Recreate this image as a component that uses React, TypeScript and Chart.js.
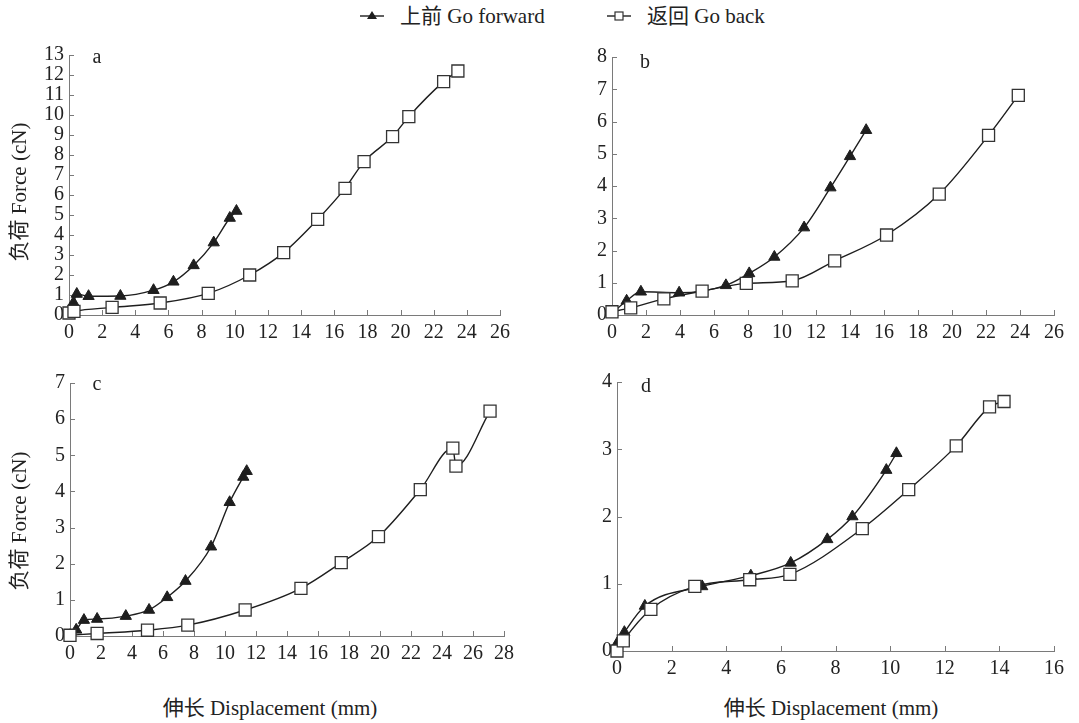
import React, { useEffect, useRef } from "react";
import { Chart, registerables } from "chart.js";

Chart.register(...registerables);

// ---------- data ----------
const forwardA = [
  [0.27, 0.62], [0.47, 1.05], [1.18, 0.94], [3.1, 0.95], [5.1, 1.24], [6.3, 1.66],
  [7.52, 2.48], [8.73, 3.62], [9.7, 4.85], [10.1, 5.2],
];
const backA = [
  [0, 0.1], [0.3, 0.18], [2.6, 0.38], [5.5, 0.6], [8.4, 1.08], [10.9, 2.0], [12.95, 3.12],
  [15.0, 4.78], [16.65, 6.33], [17.8, 7.67], [19.52, 8.92], [20.5, 9.92], [22.6, 11.67], [23.46, 12.2],
];
const forwardB = [
  [0, 0.05], [0.86, 0.44], [1.7, 0.72], [3.95, 0.69], [6.7, 0.92], [8.07, 1.29], [9.55, 1.8],
  [11.3, 2.71], [12.85, 3.95], [14.0, 4.92], [14.95, 5.73],
];
const backB = [
  [0, 0.1], [1.1, 0.22], [3.05, 0.5], [5.3, 0.74], [7.9, 0.98], [10.6, 1.06], [13.1, 1.68],
  [16.15, 2.48], [19.25, 3.75], [22.15, 5.57], [23.9, 6.81],
];
const forwardC = [
  [0, 0.02], [0.4, 0.17], [0.9, 0.44], [1.75, 0.47], [3.6, 0.55], [5.1, 0.72], [6.27, 1.07],
  [7.45, 1.52], [9.1, 2.47], [10.3, 3.7], [11.18, 4.4], [11.4, 4.56],
];
const backC = [
  [0, 0.02], [1.75, 0.07], [5.0, 0.16], [7.6, 0.3], [11.3, 0.72], [14.9, 1.32], [17.5, 2.03],
  [19.9, 2.75], [22.6, 4.05], [24.7, 5.2], [24.9, 4.7], [27.1, 6.22],
];
const forwardD = [
  [0, 0.11], [0.27, 0.28], [1.02, 0.67], [3.12, 0.96], [4.9, 1.12], [6.36, 1.31], [7.7, 1.66],
  [8.62, 2.0], [9.86, 2.69], [10.23, 2.94],
];
const backD = [
  [0, 0.0], [0.23, 0.15], [1.24, 0.62], [2.85, 0.96], [4.86, 1.06], [6.33, 1.14], [8.98, 1.82],
  [10.68, 2.4], [12.42, 3.05], [13.64, 3.63], [14.17, 3.71],
];

const xTicks26 = [0, 2, 4, 6, 8, 10, 12, 14, 16, 18, 20, 22, 24, 26];
const xTicks28 = [0, 2, 4, 6, 8, 10, 12, 14, 16, 18, 20, 22, 24, 26, 28];
const xTicks16 = [0, 2, 4, 6, 8, 10, 12, 14, 16];
const yTicksA = [0, 1, 2, 3, 4, 5, 6, 7, 8, 9, 10, 11, 12, 13];
const yTicksB = [0, 1, 2, 3, 4, 5, 6, 7, 8];
const yTicksC = [0, 1, 2, 3, 4, 5, 6, 7];
const yTicksD = [0, 1, 2, 3, 4];

const forwardLabel = "上前 Go forward";
const backLabel = "返回 Go back";
const yTitle = "负荷 Force (cN)";
const xTitle = "伸长 Displacement (mm)";

// ---------- style ----------
const FONT = "'Liberation Serif', Tinos, 'Times New Roman', 'DejaVu Serif', 'Noto Sans CJK SC', serif";
const AXIS = "#7a7a7a";
const INK = "#1e1e1e";
const TEXT = "#222";
const Y_W = 45;
const X_H = 32;
const PAD_T = 14;
const PAD_R = 20;

const inwardTicks = {
  id: "inwardTicks",
  beforeDatasetsDraw(chart: any) {
    const { ctx, chartArea, scales } = chart;
    const xs = scales.x;
    const ys = scales.y;
    ctx.save();
    ctx.strokeStyle = AXIS;
    ctx.lineWidth = 1;
    ctx.beginPath();
    xs.ticks.forEach((t: any) => {
      const px = Math.round(xs.getPixelForValue(t.value)) + 0.5;
      ctx.moveTo(px, chartArea.bottom);
      ctx.lineTo(px, chartArea.bottom - 5);
    });
    ys.ticks.forEach((t: any) => {
      const py = Math.round(ys.getPixelForValue(t.value)) + 0.5;
      ctx.moveTo(chartArea.left, py);
      ctx.lineTo(chartArea.left + 5, py);
    });
    ctx.stroke();
    ctx.restore();
  },
};

type PanelProps = {
  forward: number[][];
  back: number[][];
  xTicks: number[];
  yTicks: number[];
  area: { left: number; top: number; right: number; bottom: number };
};

function Panel({ forward, back, xTicks, yTicks, area }: PanelProps) {
  const ref = useRef<HTMLCanvasElement>(null);
  const W = area.right - area.left + Y_W + PAD_R;
  const H = area.bottom - area.top + X_H + PAD_T;
  useEffect(() => {
    if (!ref.current) return;
    const tickFont = { family: FONT, size: 20 };
    const chart = new Chart(ref.current, {
      type: "scatter",
      data: {
        datasets: [
          {
            label: forwardLabel,
            data: forward.map(([x, y]) => ({ x, y })),
            showLine: true,
            borderColor: INK,
            borderWidth: 1.4,
            backgroundColor: INK,
            pointStyle: "triangle",
            pointRadius: 6.5,
            pointBorderWidth: 1,
            pointBorderColor: INK,
            pointBackgroundColor: INK,
            cubicInterpolationMode: "monotone",
            clip: false,
            order: 1,
          } as any,
          {
            label: backLabel,
            data: back.map(([x, y]) => ({ x, y })),
            showLine: true,
            borderColor: INK,
            borderWidth: 1.4,
            backgroundColor: "#fff",
            pointStyle: "rect",
            pointRadius: 8.5,
            pointBorderWidth: 1.3,
            pointBorderColor: "#333",
            pointBackgroundColor: "#fff",
            cubicInterpolationMode: "monotone",
            clip: false,
            order: 0,
          } as any,
        ],
      },
      options: {
        animation: false,
        responsive: false,
        devicePixelRatio: 1,
        layout: { padding: { left: 0, top: PAD_T, right: PAD_R, bottom: 0 } },
        plugins: { legend: { display: false }, tooltip: { enabled: false } },
        events: [],
        scales: {
          x: {
            type: "linear",
            min: xTicks[0],
            max: xTicks[xTicks.length - 1],
            afterBuildTicks: (s: any) => {
              s.ticks = xTicks.map((v) => ({ value: v }));
            },
            afterFit: (s: any) => {
              s.height = X_H;
              s.paddingLeft = 0;
              s.paddingRight = 0;
            },
            grid: { display: true, drawOnChartArea: false, drawTicks: false },
            border: { display: true, color: AXIS, width: 1 },
            ticks: { font: tickFont, color: TEXT, padding: 6, maxRotation: 0, autoSkip: false },
          },
          y: {
            type: "linear",
            min: yTicks[0],
            max: yTicks[yTicks.length - 1],
            afterBuildTicks: (s: any) => {
              s.ticks = yTicks.map((v) => ({ value: v }));
            },
            afterFit: (s: any) => {
              s.width = Y_W;
              s.paddingTop = 0;
              s.paddingBottom = 0;
            },
            grid: { display: true, drawOnChartArea: false, drawTicks: false },
            border: { display: true, color: AXIS, width: 1 },
            ticks: { font: tickFont, color: TEXT, padding: 5, autoSkip: false },
          },
        },
      } as any,
      plugins: [inwardTicks],
    });
    return () => chart.destroy();
  }, []);
  return (
    <canvas
      ref={ref}
      width={W}
      height={H}
      style={{ position: "absolute", left: area.left - Y_W, top: area.top - PAD_T, width: W, height: H }}
    />
  );
}

function Txt({ x, y, children, size = 21, rotate = false, anchor = "center" }: any) {
  const tx = anchor === "left" ? "0" : "-50%";
  return (
    <div
      style={{
        position: "absolute",
        left: x,
        top: y,
        transform: `translate(${tx}, -50%)${rotate ? " rotate(-90deg)" : ""}`,
        transformOrigin: rotate ? "center" : undefined,
        whiteSpace: "nowrap",
        fontFamily: FONT,
        fontSize: size,
        color: TEXT,
        lineHeight: 1,
      }}
    >
      {children}
    </div>
  );
}

function LegendSymbol({ x, kind }: { x: number; kind: "tri" | "sq" }) {
  return (
    <svg width={26} height={14} style={{ position: "absolute", left: x, top: 9 }}>
      <line x1={1} y1={7} x2={25} y2={7} stroke={INK} strokeWidth={1.4} />
      {kind === "tri" ? (
        <polygon points="13,2 18,10 8,10" fill={INK} />
      ) : (
        <rect x={9} y={3} width={8} height={8} fill="#fff" stroke="#333" strokeWidth={1.2} />
      )}
    </svg>
  );
}

export default function App() {
  return (
    <div style={{ position: "absolute", left: 0, top: 0, width: 1079, height: 723, background: "#fff", overflow: "hidden" }}>
      <LegendSymbol x={359} kind="tri" />
      <Txt x={400} y={16} anchor="left">{forwardLabel}</Txt>
      <LegendSymbol x={606} kind="sq" />
      <Txt x={647} y={16} anchor="left">{backLabel}</Txt>

      <Panel forward={forwardA} back={backA} xTicks={xTicks26} yTicks={yTicksA} area={{ left: 69, top: 55, right: 500, bottom: 315 }} />
      <Panel forward={forwardB} back={backB} xTicks={xTicks26} yTicks={yTicksB} area={{ left: 612, top: 57, right: 1054, bottom: 315 }} />
      <Panel forward={forwardC} back={backC} xTicks={xTicks28} yTicks={yTicksC} area={{ left: 70, top: 383, right: 504, bottom: 636 }} />
      <Panel forward={forwardD} back={backD} xTicks={xTicks16} yTicks={yTicksD} area={{ left: 617, top: 382, right: 1054, bottom: 651 }} />

      <Txt x={97} y={56} size={20}>a</Txt>
      <Txt x={645} y={61} size={20}>b</Txt>
      <Txt x={97} y={383} size={20}>c</Txt>
      <Txt x={646} y={385} size={20}>d</Txt>

      <Txt x={19} y={192} rotate>{yTitle}</Txt>
      <Txt x={19} y={521} rotate>{yTitle}</Txt>
      <Txt x={270} y={708}>{xTitle}</Txt>
      <Txt x={831} y={708}>{xTitle}</Txt>
    </div>
  );
}
